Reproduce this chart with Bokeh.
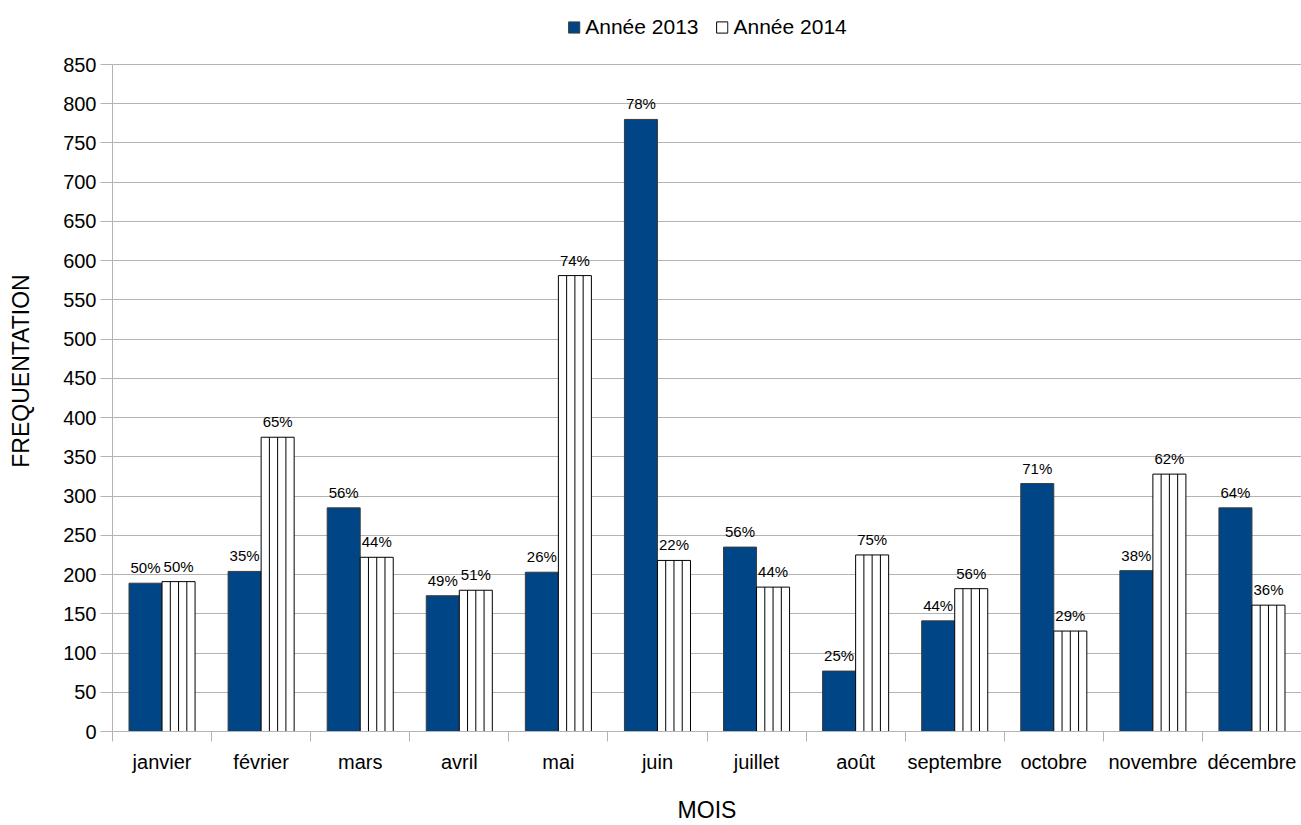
import numpy as np
from bokeh.plotting import figure
from bokeh.models import ColumnDataSource, FixedTicker, Range1d, Legend, LegendItem
from bokeh.core.properties import value
from bokeh.embed import file_html
from bokeh.resources import INLINE

months = ["janvier", "février", "mars", "avril", "mai", "juin", "juillet",
          "août", "septembre", "octobre", "novembre", "décembre"]
y2013 = [189, 204, 285, 173, 203, 780, 235, 77, 141, 316, 205, 285]
y2014 = [191, 375, 222, 180, 581, 218, 184, 225, 182, 128, 328, 161]
pct2013 = ["50%", "35%", "56%", "49%", "26%", "78%", "56%", "25%", "44%", "71%", "38%", "64%"]
pct2014 = ["50%", "65%", "44%", "51%", "74%", "22%", "44%", "75%", "56%", "29%", "62%", "36%"]
yticks = list(range(0, 851, 50))
YMAX = 850

FONT = "Liberation Sans"
BLUE = "#004586"
GRID = "#b3b3b3"

# layout (pixels)
W, H = 1301, 825
FRAME_TOP, FRAME_BOTTOM, FRAME_LEFT = 10, 731, 112
AXIS_TOP = 64  # where YMAX sits

idx = np.arange(len(months))
bw = 1.0 / 3.0
s13 = ColumnDataSource(dict(x=idx - bw / 2, top=y2013, lab=pct2013))
s14 = ColumnDataSource(dict(x=idx + bw / 2, top=y2014, lab=pct2014))

# vertical hatch lines inside the 2014 bars (3 per bar)
hx, htop = [], []
for i, t in zip(idx, y2014):
    for k in (1, 2, 3):
        hx.append(i + bw * k / 4.0)
        htop.append(t)
sh = ColumnDataSource(dict(x=hx, y0=[0] * len(hx), y1=htop))

# extend the y range above 850 so the legend can sit inside the frame
y_end = YMAX * (FRAME_BOTTOM - FRAME_TOP) / (FRAME_BOTTOM - AXIS_TOP)

p = figure(width=W, height=H, output_backend="svg", toolbar_location=None,
           x_range=Range1d(-0.5, len(months) - 0.5), y_range=Range1d(0, y_end))
p.min_border_left = FRAME_LEFT
p.min_border_right = 0
p.min_border_top = FRAME_TOP
p.min_border_bottom = H - FRAME_BOTTOM
p.outline_line_color = None
p.background_fill_color = "white"

p.xgrid.grid_line_color = None
p.ygrid.ticker = FixedTicker(ticks=yticks)
p.ygrid.grid_line_color = GRID
p.ygrid.grid_line_width = 1

r13 = p.vbar(x="x", top="top", width=bw, source=s13, fill_color=BLUE,
             line_color="#3c3c3c", line_width=1)
r14 = p.vbar(x="x", top="top", width=bw, source=s14, fill_color="white",
             line_color="black", line_width=1)
p.segment(x0="x", y0="y0", x1="x", y1="y1", source=sh, line_color="black", line_width=1)
# legend-only vertical stroke for the hatched swatch
r14_mark = p.scatter(x=[], y=[], marker="line", size=14, line_color="black", line_width=1)

for s in (s13, s14):
    p.text(x="x", y="top", text="lab", source=s, text_align="center",
           text_baseline="bottom", y_offset=-7, text_font=value(FONT),
           text_font_size="15px", text_color="black")

# x axis
p.xaxis.ticker = FixedTicker(ticks=list(idx), minor_ticks=list(np.arange(-0.5, len(months), 1.0)))
p.xaxis.major_label_overrides = {int(i): m for i, m in zip(idx, months)}
p.xaxis.major_tick_out = 0
p.xaxis.major_tick_in = 0
p.xaxis.minor_tick_out = 10
p.xaxis.minor_tick_in = 0
p.xaxis.minor_tick_line_color = GRID
p.xaxis.axis_line_color = GRID
p.xaxis.major_label_standoff = 9
p.xaxis.major_label_text_font = FONT
p.xaxis.major_label_text_font_size = "20px"
p.xaxis.major_label_text_color = "black"
p.xaxis.axis_label = "MOIS"
p.xaxis.axis_label_text_font = FONT
p.xaxis.axis_label_text_font_size = "23px"
p.xaxis.axis_label_text_font_style = "normal"
p.xaxis.axis_label_text_color = "black"
p.xaxis.axis_label_standoff = 21

# y axis
p.yaxis.ticker = FixedTicker(ticks=yticks, minor_ticks=[])
p.yaxis.bounds = (0, YMAX)
p.yaxis.major_tick_out = 12
p.yaxis.major_tick_in = 0
p.yaxis.major_tick_line_color = GRID
p.yaxis.axis_line_color = GRID
p.yaxis.major_label_standoff = 4
p.yaxis.major_label_text_font = FONT
p.yaxis.major_label_text_font_size = "20px"
p.yaxis.major_label_text_color = "black"
p.yaxis.axis_label = "FREQUENTATION"
p.yaxis.axis_label_text_font = FONT
p.yaxis.axis_label_text_font_size = "23px"
p.yaxis.axis_label_text_font_style = "normal"
p.yaxis.axis_label_text_color = "black"
p.yaxis.axis_label_standoff = 26

legend = Legend(items=[LegendItem(label="Année 2013", renderers=[r13]),
                       LegendItem(label="Année 2014", renderers=[r14, r14_mark])],
                orientation="horizontal", location="top_center")
legend.label_text_font = FONT
legend.label_text_font_size = "21px"
legend.label_text_color = "black"
legend.glyph_width = 14
legend.glyph_height = 14
legend.spacing = 16
legend.label_standoff = 5
legend.border_line_color = None
legend.background_fill_alpha = 0
legend.padding = 2
legend.margin = 5
p.add_layout(legend, "center")

open("out.html", "w").write(file_html(p, INLINE))
